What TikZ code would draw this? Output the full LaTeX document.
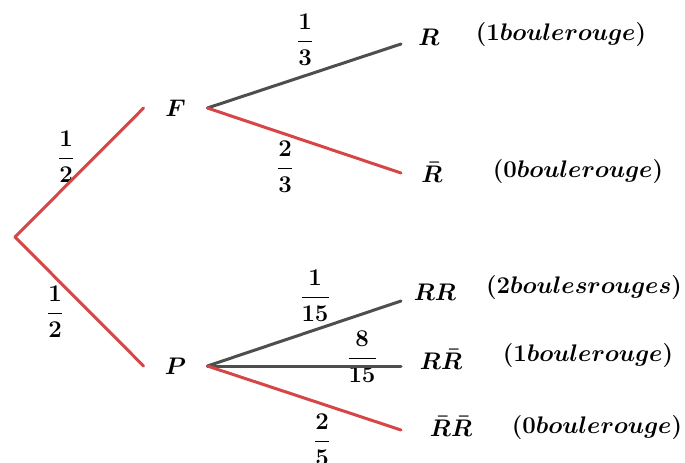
\documentclass[tikz,border=0pt,12pt]{standalone}
\usepackage{amsmath,bm}
\usetikzlibrary{positioning}
\definecolor{branchred}{RGB}{215,70,70}
\definecolor{branchgrey}{RGB}{78,78,78}

\begin{document}
\begin{tikzpicture}[
x=0.5pt, y=-0.5pt,
inner/.style={inner sep=0pt, minimum width=31.5pt, minimum height=8pt},
leaf/.style={inner sep=0pt},
note/.style={inner sep=0pt},
prob/.style={inner sep=0pt},
red/.style={draw=branchred, line width=1.5pt, line cap=round},
grey/.style={draw=branchgrey, line width=1.5pt, line cap=round}
]
\useasboundingbox (0,0) rectangle (685,462);
% first draw
\coordinate (root) at (15,237);
\node[inner] (f) at (175.5,108) {$\bm{F}$};
\node[inner] (p) at (175.5,366) {$\bm{P}$};
% second draw after F
\coordinate (rEnd) at (401,44);
\coordinate (nrEnd) at (401,173);
\node[leaf] (r) at (429,37) {$\bm{R}$};
\node[leaf] (nr) at (432,172) {$\bm{\bar{R}}$};
% second draw after P
\coordinate (rrEnd) at (401,301);
\coordinate (rnrEnd) at (401,366);
\coordinate (nrnrEnd) at (401,430);
\node[leaf] (rr) at (435,292) {$\bm{RR}$};
\node[leaf] (rnr) at (441,359) {$\bm{R\bar{R}}$};
\node[leaf] (nrnr) at (451,426) {$\bm{\bar{R}\bar{R}}$};
% number of red balls
\node[note] (n1) at (561,34) {$\bm{(1 boule rouge)}$};
\node[note] (n2) at (578,171) {$\bm{(0 boule rouge)}$};
\node[note] (n3) at (584,287) {$\bm{(2 boules rouges)}$};
\node[note] (n4) at (588,355) {$\bm{(1 boule rouge)}$};
\node[note] (n5) at (597,427) {$\bm{(0 boule rouge)}$};
% probabilities
\node[prob] (pf) at (66,157) {$\bm{\dfrac{1}{2}}$};
\node[prob] (pp) at (55,312) {$\bm{\dfrac{1}{2}}$};
\node[prob] (pr) at (305,40) {$\bm{\dfrac{1}{3}}$};
\node[prob] (pnr) at (285,167) {$\bm{\dfrac{2}{3}}$};
\node[prob] (prr) at (315,296) {$\bm{\dfrac{1}{15}}$};
\node[prob] (prnr) at (362,357) {$\bm{\dfrac{8}{15}}$};
\node[prob] (pnrnr) at (322,440) {$\bm{\dfrac{2}{5}}$};
% branches
\draw[red] (root) -- (f.west); \draw[red] (root) -- (p.west);
\draw[grey] (f.east) -- (rEnd); \draw[red] (f.east) -- (nrEnd);
\draw[grey] (p.east) -- (rrEnd); \draw[grey] (p.east) -- (rnrEnd);
\draw[red] (p.east) -- (nrnrEnd);
\end{tikzpicture}
\end{document}
